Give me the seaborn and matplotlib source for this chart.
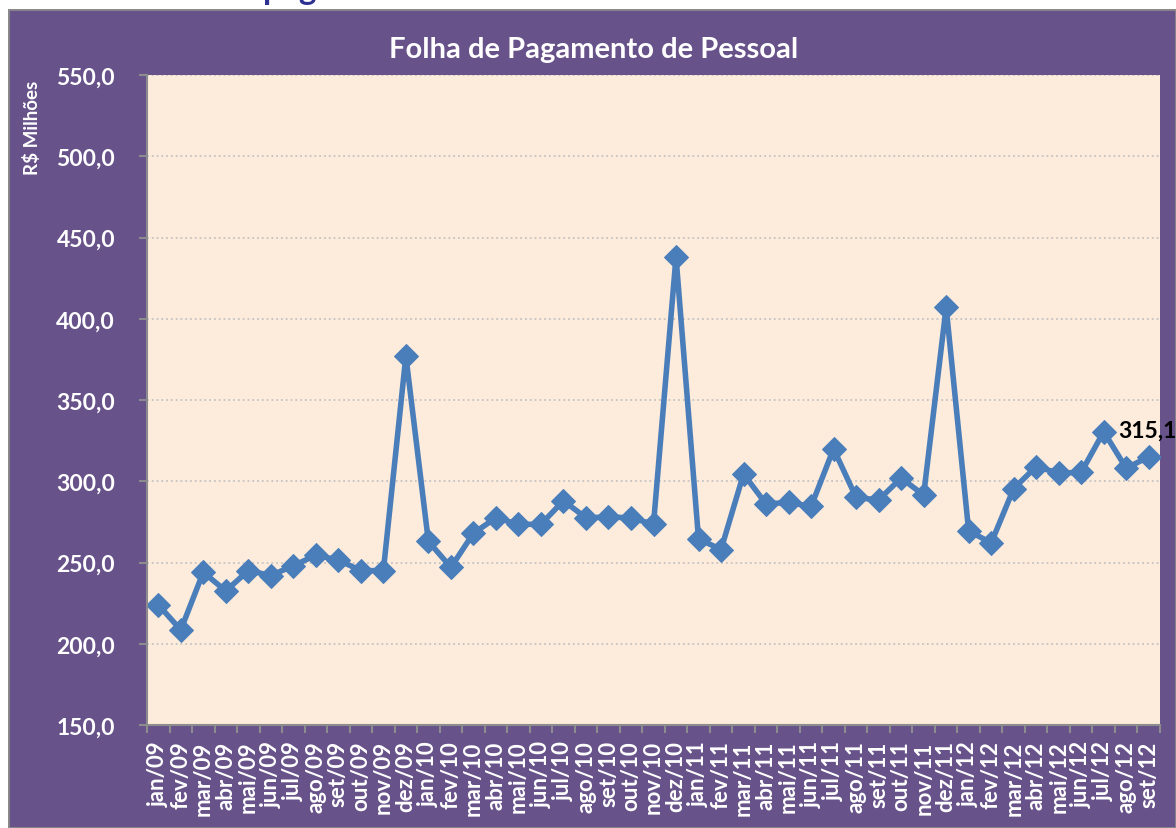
import numpy as np
import pandas as pd
import matplotlib.pyplot as plt
import seaborn as sns
from matplotlib.patches import Rectangle
from matplotlib.colors import LinearSegmentedColormap

# data (R$ milhões)
months = ['jan/09', 'fev/09', 'mar/09', 'abr/09', 'mai/09', 'jun/09', 'jul/09', 'ago/09',
          'set/09', 'out/09', 'nov/09', 'dez/09',
          'jan/10', 'fev/10', 'mar/10', 'abr/10', 'mai/10', 'jun/10', 'jul/10', 'ago/10',
          'set/10', 'out/10', 'nov/10', 'dez/10',
          'jan/11', 'fev/11', 'mar/11', 'abr/11', 'mai/11', 'jun/11', 'jul/11', 'ago/11',
          'set/11', 'out/11', 'nov/11', 'dez/11',
          'jan/12', 'fev/12', 'mar/12', 'abr/12', 'mai/12', 'jun/12', 'jul/12', 'ago/12',
          'set/12']
values = [224.0, 208.5, 244.0, 232.5, 245.0, 242.0, 248.0, 254.5,
          251.5, 245.0, 245.0, 377.0,
          263.0, 247.0, 268.0, 277.5, 273.5, 273.5, 288.0, 277.5,
          278.0, 277.5, 273.5, 438.0,
          264.5, 258.0, 304.5, 286.0, 287.0, 284.5, 320.0, 290.0,
          288.5, 302.0, 291.5, 407.0,
          269.5, 262.0, 295.5, 309.0, 305.0, 305.5, 330.5, 308.0,
          315.1]
yticks = [150, 200, 250, 300, 350, 400, 450, 500, 550]

sns.set_style('white')
plt.rcParams['font.family'] = ['Lato', 'DejaVu Sans']

df = pd.DataFrame({'Mes': months, 'Valor': values})
df['pos'] = np.arange(len(df))

W, H = 1176, 829
fig = plt.figure(figsize=(W / 100, H / 100), dpi=100)
fig.patch.set_facecolor('white')

# purple frame with a bevel
purple = '#67528A'
bg = fig.add_axes([8 / W, 0, 1 - 8 / W, 1 - 10 / H])
bg.axis('off')
bg.add_patch(Rectangle((0, 0), 1168, 819, facecolor=purple, edgecolor='#8A8A8A', lw=2))
top = LinearSegmentedColormap.from_list('top', ['#8470A6', '#9A87BA', '#9480B3', purple])
bg.imshow(np.linspace(0, 1, 40).reshape(-1, 1), extent=(2, 1168, 26, 2), cmap=top, aspect='auto')
left = LinearSegmentedColormap.from_list('left', ['#5E4A80', '#735E96', purple])
bg.imshow(np.linspace(0, 1, 20).reshape(1, -1), extent=(1, 18, 800, 26), cmap=left, aspect='auto')
bot = LinearSegmentedColormap.from_list('bot', [purple, '#5A4776', '#4F3F69'])
bg.imshow(np.linspace(0, 1, 20).reshape(-1, 1), extent=(0, 1168, 819, 800), cmap=bot, aspect='auto')
right = LinearSegmentedColormap.from_list('right', [purple, '#5C4A7C'])
bg.imshow(np.linspace(0, 1, 20).reshape(1, -1), extent=(1152, 1168, 800, 26), cmap=right, aspect='auto')
bg.set_xlim(0, 1168)
bg.set_ylim(819, 0)

# main plot area
ax = fig.add_axes([147 / W, 1 - 726 / H, (1160 - 147) / W, (726 - 76) / H])
ax.set_facecolor('#FDEBDB')
sns.lineplot(data=df, x='pos', y='Valor', ax=ax, color='#4A7EBB', lw=4,
             marker='D', markersize=12, markeredgecolor='#4A7EBB')

ax.set_xlim(-0.5, len(df) - 0.5)
ax.set_ylim(150, 550)
ax.set_yticks(yticks)
ax.set_yticklabels([f'{v:.1f}'.replace('.', ',') for v in yticks])
ax.set_xticks(df['pos'])
ax.set_xticklabels(months, rotation=90)
ax.set_xticks(np.arange(-0.5, len(df), 1), minor=True)
ax.set_xlabel('')
ax.set_ylabel('')

ax.grid(axis='y', ls=':', color='#C4C4C4', lw=1.3)
ax.grid(axis='x', visible=False)
ax.tick_params(axis='x', which='major', length=0, pad=11, labelsize=16, labelcolor='white')
ax.tick_params(axis='x', which='minor', length=6, width=1.5, color='#8C8C8C', bottom=True)
ax.tick_params(axis='y', length=6, width=1.5, color='#8C8C8C', left=True, pad=17,
               labelsize=16.5, labelcolor='white')
for lab in ax.get_xticklabels() + ax.get_yticklabels():
    lab.set_fontweight('bold')
for s in ['top', 'right']:
    ax.spines[s].set_visible(False)
for s in ['left', 'bottom']:
    ax.spines[s].set_color('#8C8C8C')
    ax.spines[s].set_linewidth(1.5)

# label on the last point
ax.annotate(f'{values[-1]:.1f}'.replace('.', ','), (df['pos'].iloc[-1], values[-1]),
            xytext=(-31, 27), textcoords='offset pixels', ha='left', va='center',
            fontsize=16.5, fontweight='bold', color='black', annotation_clip=False)

fig.text(0.505, 1 - 50 / H, 'Folha de Pagamento de Pessoal', ha='center', va='center',
         color='white', fontsize=21, fontweight='bold')
fig.text(32 / W, 1 - 128 / H, 'R$ Milhões', rotation=90, ha='center', va='center',
         color='white', fontsize=13.5, fontweight='bold')

# heading of the page, cut off by the top edge as in the source
fig.text(263 / W, 1 + 0.5 / H, 'pagamento', ha='left', va='baseline',
         color='#2E3192', fontsize=24, fontweight='bold')

fig.savefig('out.png', dpi=100)
